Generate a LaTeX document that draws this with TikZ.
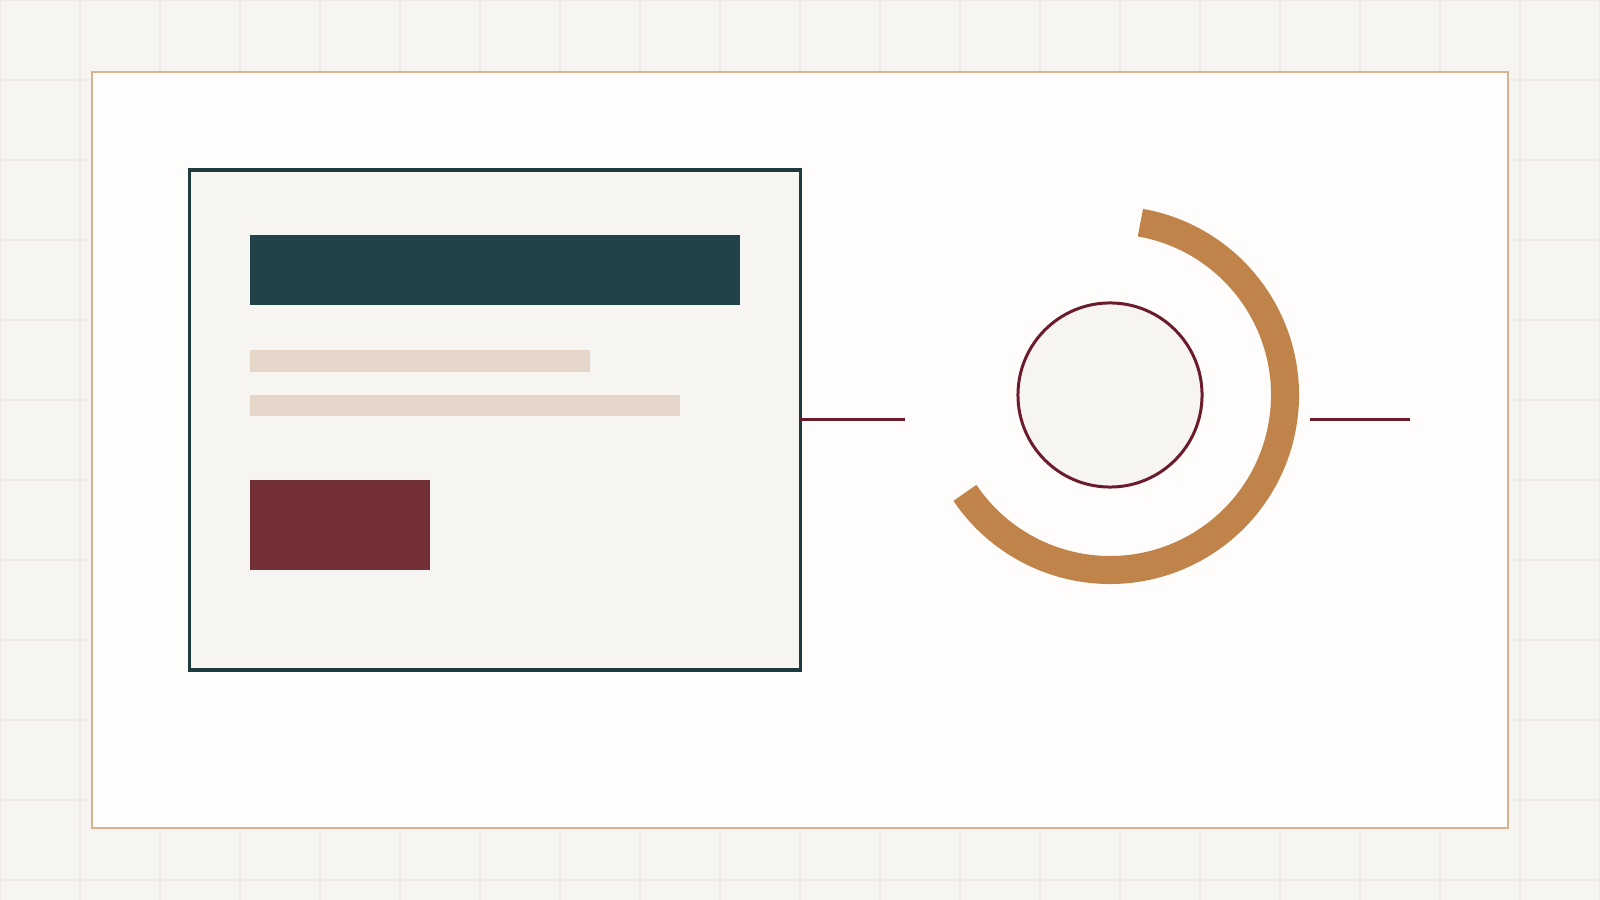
\documentclass[tikz,border=0pt]{standalone}
\usepackage{tikz}
\usetikzlibrary{calc}
\definecolor{paper}{HTML}{F7F5F1}
\definecolor{gridc}{HTML}{EFECE8}
\definecolor{card}{HTML}{FEFDFB}
\definecolor{sand}{HTML}{D8B48E}
\definecolor{teal}{HTML}{22424A}
\definecolor{tealedge}{HTML}{1D3A3E}
\definecolor{bar}{HTML}{E5D6C9}
\definecolor{wine}{HTML}{743037}
\definecolor{maroon}{HTML}{6B1B2B}
\definecolor{copper}{HTML}{C0844B}
\def\blocknode{\node[rectangle,inner sep=0pt,outer sep=0pt]}

\begin{document}
\begin{tikzpicture}[x=0.01cm,y=0.01cm,
  gridline/.style={draw=gridc,line width=0.3pt},
  link/.style={draw=maroon,line width=0.85pt}]
\useasboundingbox (0,0) rectangle (1600,900);
\fill[paper] (0,0) rectangle (1600,900);
\foreach \g in {0,80,...,1600} \draw[gridline] (\g,0) -- (\g,900);
\foreach \g in {0,80,...,880} \draw[gridline] (0,{900-\g}) -- (1600,{900-\g});
\blocknode[draw=sand,fill=card,line width=0.55pt,minimum width=14.16cm,minimum height=7.56cm] (frame) at (800,450) {};
\blocknode[draw=tealedge,fill=paper,line width=0.95pt,minimum width=6.1cm,minimum height=5cm] (panel) at (495,480) {};
\blocknode[fill=teal,minimum width=4.9cm,minimum height=0.7cm] (title) at (495,630) {};
\blocknode[fill=bar,minimum width=3.4cm,minimum height=0.22cm] (lineA) at (420,539) {};
\blocknode[fill=bar,minimum width=4.3cm,minimum height=0.21cm] (lineB) at (465,494.5) {};
\blocknode[fill=wine,minimum width=1.8cm,minimum height=0.9cm] (button) at (340,375) {};
\node[circle,draw=maroon,fill=paper,line width=0.85pt,inner sep=0pt,minimum size=1.84cm] (hub) at (1110,505) {};
\coordinate (inL) at (905,480);
\coordinate (outA) at (1310,480);
\coordinate (outB) at (1410,480);
\draw[copper,line width=0.28cm] ($(hub.center)+(80:175)$) arc[start angle=80,end angle=-146,radius=175];
\draw[link] (panel.east) -- (inL);
\draw[link] (outA) -- (outB);
\end{tikzpicture}
\end{document}
